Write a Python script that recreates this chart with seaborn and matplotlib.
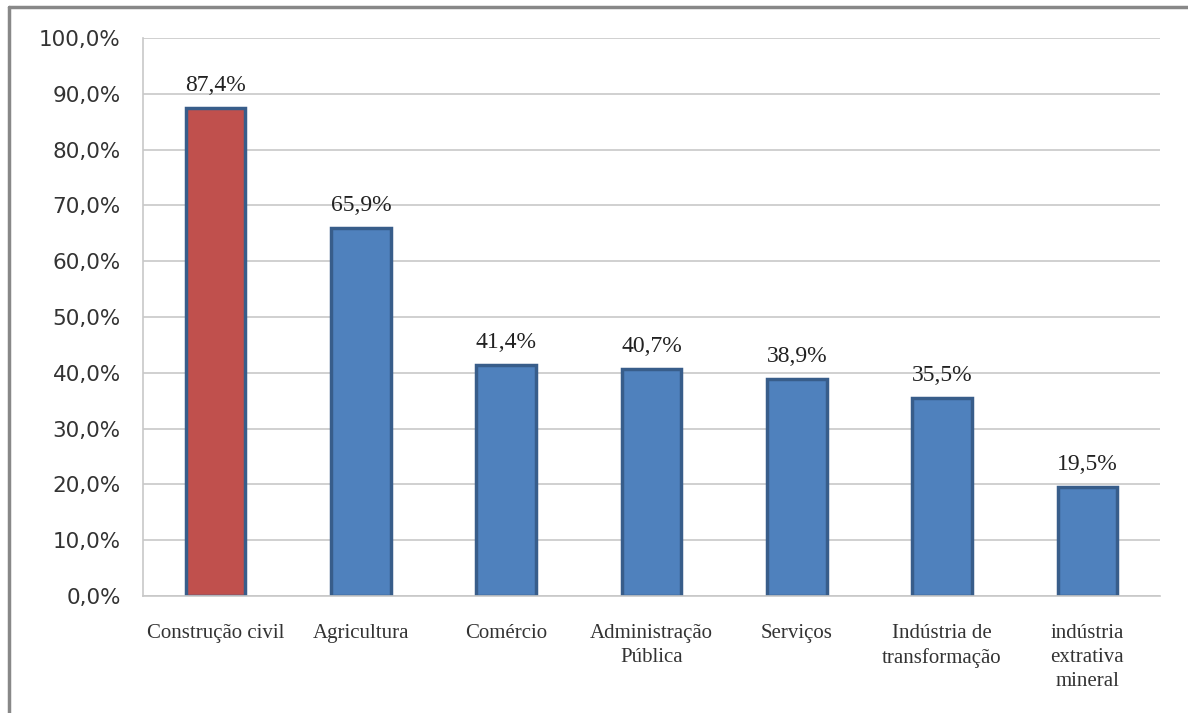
import pandas as pd
import seaborn as sns
import matplotlib.pyplot as plt
from matplotlib.lines import Line2D

# Dados do gráfico
setores = ['Construção civil', 'Agricultura', 'Comércio', 'Administração\nPública',
           'Serviços', 'Indústria de\ntransformação', 'indústria\nextrativa\nmineral']
valores = [87.4, 65.9, 41.4, 40.7, 38.9, 35.5, 19.5]
cores = ['#C0504D', '#4F81BD', '#4F81BD', '#4F81BD', '#4F81BD', '#4F81BD', '#4F81BD']
yticks = [0, 10, 20, 30, 40, 50, 60, 70, 80, 90, 100]

df = pd.DataFrame({'setor': setores, 'valor': valores})

sns.set_theme(style="white")
fig = plt.figure(figsize=(11.88, 7.13), dpi=100)
ax = fig.add_axes([0.1204, 0.164, 0.856, 0.7826])

sns.barplot(data=df, x='setor', y='valor', hue='setor', palette=cores, legend=False,
            width=0.41, edgecolor='#385D8A', linewidth=2.5, saturation=1, ax=ax)

ax.set_ylim(0, 100)
ax.set_yticks(yticks)
ax.set_yticklabels([f'{v:.1f}%'.replace('.', ',') for v in yticks],
                   fontsize=15.5, color='#333333', family='DejaVu Sans')
ax.yaxis.grid(True, color='#c8c8c8', linewidth=1.2)
ax.set_axisbelow(True)
ax.set_xlabel('')
ax.set_ylabel('')
ax.tick_params(axis='x', labelsize=15, colors='#333333', length=0, pad=20)
ax.tick_params(axis='y', length=0, pad=16)
for lab in ax.get_xticklabels():
    lab.set_family('Liberation Serif')
    lab.set_linespacing(1.35)

for s in ['top', 'right']:
    ax.spines[s].set_visible(False)
for s in ['left', 'bottom']:
    ax.spines[s].set_color('#c8c8c8')
    ax.spines[s].set_linewidth(1.2)

# Rótulos de dados
for i, v in enumerate(valores):
    ax.text(i, v + 2.2, f'{v:.1f}%'.replace('.', ','), ha='center', va='bottom',
            fontsize=17, family='Liberation Serif', color='#222222')

# Moldura cinza (topo e esquerda)
fig.add_artist(Line2D([9 / 1188, 1.0], [1 - 7 / 713, 1 - 7 / 713], color='#888888', linewidth=2.5))
fig.add_artist(Line2D([9 / 1188, 9 / 1188], [0.0, 1 - 7 / 713], color='#888888', linewidth=2.5))

plt.savefig('out.png', dpi=100)
